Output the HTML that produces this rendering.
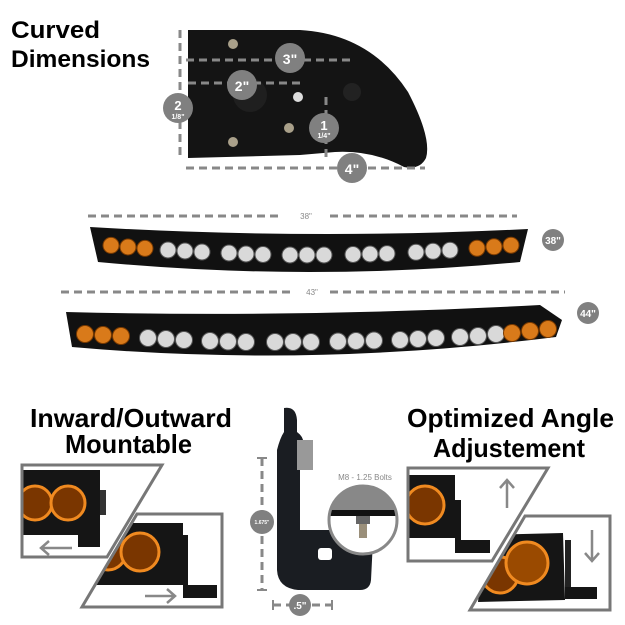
<!DOCTYPE html>
<html><head><meta charset="utf-8"><style>
html,body{margin:0;padding:0;background:#fff;}
svg{display:block;}
text{font-family:"Liberation Sans",sans-serif;}
</style></head><body>
<svg width="625" height="625" viewBox="0 0 625 625" xmlns="http://www.w3.org/2000/svg">
<defs>
<clipPath id="c1"><polygon points="22,465 162,465 107,557 22,557"/></clipPath>
<clipPath id="c2"><polygon points="137,514 222,514 222,607 82,607"/></clipPath>
<clipPath id="c3"><polygon points="408,468 548,468 492,561 408,561"/></clipPath>
<clipPath id="c4"><polygon points="525,516 610,516 610,610 470,610"/></clipPath>
<clipPath id="cb"><circle cx="363" cy="520" r="34"/></clipPath>
</defs>

<!-- Title -->
<text x="11" y="38" font-size="24" font-weight="bold" fill="#000" textLength="89" lengthAdjust="spacingAndGlyphs">Curved</text>
<text x="11" y="67" font-size="24" font-weight="bold" fill="#000" textLength="139" lengthAdjust="spacingAndGlyphs">Dimensions</text>

<!-- Bracket plate -->
<path d="M188,30 L300,30 Q370,34 408,92 Q432,138 426,158 Q420,170 404,167 Q372,150 335,152 L300,155 L188,158 Z" fill="#141414"/>
<circle cx="233" cy="44" r="5" fill="#a9a08a"/>
<circle cx="233" cy="142" r="5" fill="#a9a08a"/>
<circle cx="289" cy="128" r="5" fill="#a9a08a"/>
<circle cx="250" cy="95" r="17" fill="#1f1f1f"/>
<circle cx="298" cy="97" r="5" fill="#ddd"/>
<circle cx="352" cy="92" r="9" fill="#222"/>

<!-- dimension lines -->
<g stroke="#888" stroke-width="3" stroke-dasharray="8,5" fill="none">
<line x1="180" y1="30" x2="180" y2="158"/>
<line x1="186" y1="60" x2="352" y2="60"/>
<line x1="188" y1="83" x2="300" y2="83"/>
<line x1="326" y1="97" x2="326" y2="158"/>
<line x1="186" y1="168" x2="425" y2="168"/>
<line x1="88" y1="216" x2="283" y2="216"/>
<line x1="330" y1="216" x2="517" y2="216"/>
<line x1="61" y1="292" x2="295" y2="292"/>
<line x1="330" y1="292" x2="565" y2="292"/>
<line x1="262" y1="458" x2="262" y2="590"/>
<line x1="273" y1="605" x2="332" y2="605"/>
</g>
<g fill="#808080">
<circle cx="290" cy="58" r="15"/>
<circle cx="242" cy="85" r="15"/>
<circle cx="178" cy="108" r="15"/>
<circle cx="324" cy="128" r="15"/>
<circle cx="352" cy="168" r="15"/>
<circle cx="553" cy="240" r="11"/>
<circle cx="588" cy="313" r="11"/>
<circle cx="262" cy="522" r="12"/>
<circle cx="300" cy="605" r="11"/>
</g>
<g fill="#fff" font-weight="bold" text-anchor="middle">
<text x="290" y="64" font-size="14">3"</text>
<text x="242" y="91" font-size="14">2"</text>
<text x="178" y="110" font-size="13">2</text>
<text x="178" y="119" font-size="7">1/8"</text>
<text x="324" y="130" font-size="13">1</text>
<text x="324" y="138" font-size="7">1/4"</text>
<text x="352" y="174" font-size="14">4"</text>
<text x="553" y="244" font-size="10">38"</text>
<text x="588" y="317" font-size="10">44"</text>
<text x="262" y="524" font-size="5">1.675"</text>
<text x="300" y="609" font-size="10">.5"</text>
</g>
<text x="306" y="219" font-size="8" fill="#888" text-anchor="middle">38"</text>
<text x="312" y="295" font-size="8" fill="#888" text-anchor="middle">43"</text>

<!-- Bar 1 -->
<path d="M90,227 Q310,240 528,229 L520,262 Q310,282 98,262 Z" fill="#111"/>
<g fill="#d9d9d9" stroke="#555" stroke-width="1">
<circle cx="168" cy="250" r="8"/><circle cx="185" cy="251" r="8"/><circle cx="202" cy="252" r="8"/>
<circle cx="229" cy="253" r="8"/><circle cx="246" cy="254" r="8"/><circle cx="263" cy="254.5" r="8"/>
<circle cx="290" cy="255" r="8"/><circle cx="307" cy="255" r="8"/><circle cx="324" cy="255" r="8"/>
<circle cx="353" cy="254.5" r="8"/><circle cx="370" cy="254" r="8"/><circle cx="387" cy="253.6" r="8"/>
<circle cx="416" cy="252.3" r="8"/><circle cx="433" cy="251.3" r="8"/><circle cx="450" cy="250.2" r="8"/>
</g>
<g fill="#d97a1a" stroke="#7a3a00" stroke-width="1">
<circle cx="111" cy="245.4" r="8"/><circle cx="128" cy="247" r="8"/><circle cx="145" cy="248.4" r="8"/>
<circle cx="477" cy="248.2" r="8"/><circle cx="494" cy="246.8" r="8"/><circle cx="511" cy="245.2" r="8"/>
</g>

<!-- Bar 2 -->
<path d="M66,312 Q300,318 540,305 L562,320 L556,337 Q310,368 72,347 Z" fill="#111"/>
<g fill="#d9d9d9" stroke="#555" stroke-width="1">
<circle cx="148" cy="338" r="8.5"/><circle cx="166" cy="339" r="8.5"/><circle cx="184" cy="340" r="8.5"/>
<circle cx="210" cy="341" r="8.5"/><circle cx="228" cy="341.5" r="8.5"/><circle cx="246" cy="342" r="8.5"/>
<circle cx="275" cy="342" r="8.5"/><circle cx="293" cy="342" r="8.5"/><circle cx="311" cy="342" r="8.5"/>
<circle cx="338" cy="341.5" r="8.5"/><circle cx="356" cy="341" r="8.5"/><circle cx="374" cy="340.5" r="8.5"/>
<circle cx="400" cy="340" r="8.5"/><circle cx="418" cy="339" r="8.5"/><circle cx="436" cy="338" r="8.5"/>
<circle cx="460" cy="337" r="8.5"/><circle cx="478" cy="336" r="8.5"/><circle cx="496" cy="334" r="8.5"/>
</g>
<g fill="#d97a1a" stroke="#7a3a00" stroke-width="1">
<circle cx="85" cy="334" r="8.5"/><circle cx="103" cy="335" r="8.5"/><circle cx="121" cy="336" r="8.5"/>
<circle cx="512" cy="333" r="8.5"/><circle cx="530" cy="331" r="8.5"/><circle cx="548" cy="329" r="8.5"/>
</g>

<!-- Bottom titles -->
<text x="30" y="427" font-size="26" font-weight="bold" fill="#000" textLength="202" lengthAdjust="spacingAndGlyphs">Inward/Outward</text>
<text x="65" y="453" font-size="26" font-weight="bold" fill="#000" textLength="127" lengthAdjust="spacingAndGlyphs">Mountable</text>
<text x="407" y="427" font-size="26" font-weight="bold" fill="#000" textLength="207" lengthAdjust="spacingAndGlyphs">Optimized Angle</text>
<text x="433" y="457" font-size="26" font-weight="bold" fill="#000" textLength="152" lengthAdjust="spacingAndGlyphs">Adjustement</text>

<!-- Left frames -->
<g clip-path="url(#c1)">
<rect x="15" y="470" width="85" height="65" fill="#151515"/>
<circle cx="35" cy="503" r="17" fill="#7a3600" stroke="#f08a20" stroke-width="3"/>
<circle cx="68" cy="503" r="17" fill="#7a3600" stroke="#f08a20" stroke-width="3"/>
<rect x="100" y="490" width="6" height="25" fill="#333"/>
<rect x="78" y="535" width="22" height="12" fill="#151515"/>
</g>
<polygon points="22,465 162,465 107,557 22,557" fill="none" stroke="#777" stroke-width="3"/>
<path d="M72,548 L42,548 M49,541 L41,548 L49,555" stroke="#888" stroke-width="2.5" fill="none"/>

<g clip-path="url(#c2)">
<rect x="95" y="523" width="88" height="62" fill="#151515"/>
<circle cx="108" cy="552" r="18" fill="#7a3600" stroke="#f08a20" stroke-width="3"/>
<circle cx="140" cy="552" r="19" fill="#7a3600" stroke="#f08a20" stroke-width="3"/>
<rect x="183" y="535" width="5" height="60" fill="#151515"/>
<rect x="183" y="585" width="34" height="13" fill="#151515"/>
</g>
<polygon points="137,514 222,514 222,607 82,607" fill="none" stroke="#777" stroke-width="3"/>
<path d="M145,596 L174,596 M167,589 L175,596 L167,603" stroke="#888" stroke-width="2.5" fill="none"/>

<!-- Right frames -->
<g clip-path="url(#c3)">
<rect x="400" y="475" width="55" height="63" fill="#151515"/>
<circle cx="425" cy="505" r="19" fill="#7a3600" stroke="#f08a20" stroke-width="3"/>
<rect x="455" y="500" width="6" height="53" fill="#151515"/>
<rect x="455" y="540" width="35" height="13" fill="#151515"/>
</g>
<polygon points="408,468 548,468 492,561 408,561" fill="none" stroke="#777" stroke-width="3"/>
<path d="M507,508 L507,481 M500,488 L507,480 L514,488" stroke="#888" stroke-width="2.5" fill="none"/>

<g clip-path="url(#c4)">
<polygon points="485,535 563,533 565,600 478,602" fill="#151515"/>
<circle cx="500" cy="575" r="18" fill="#7a3600" stroke="#f08a20" stroke-width="3"/>
<circle cx="527" cy="563" r="21" fill="#9a4a00" stroke="#f08a20" stroke-width="3"/>
<rect x="565" y="540" width="6" height="50" fill="#222"/>
<rect x="565" y="587" width="32" height="12" fill="#151515"/>
</g>
<polygon points="525,516 610,516 610,610 470,610" fill="none" stroke="#777" stroke-width="3"/>
<path d="M592,530 L592,560 M585,553 L592,561 L599,553" stroke="#888" stroke-width="2.5" fill="none"/>

<!-- Center bracket -->
<path d="M284,408 Q296,406 297,420 L297,432 Q308,440 300,452 L300,530 L368,530 Q374,532 373,540 L371,580 Q370,590 360,590 L298,590 Q278,588 277,570 L277,450 Q280,438 284,432 Z" fill="#1a1d22"/>
<rect x="297" y="440" width="16" height="30" fill="#999"/>
<rect x="318" y="548" width="14" height="12" rx="3" fill="#fff"/>
<text x="365" y="480" font-size="8" fill="#888" text-anchor="middle">M8 - 1.25 Bolts</text>
<g clip-path="url(#cb)">
<rect x="325" y="484" width="80" height="75" fill="#fff"/>
<polygon points="325,484 405,484 405,510 325,510" fill="#888"/>
<rect x="325" y="510" width="80" height="6" fill="#111"/>
<rect x="356" y="516" width="14" height="8" fill="#666"/>
<rect x="359" y="524" width="8" height="14" fill="#9a8f7a"/>
</g>
<circle cx="363" cy="520" r="34" fill="none" stroke="#888" stroke-width="3"/>
<line x1="257" y1="458" x2="267" y2="458" stroke="#888" stroke-width="2"/>
<line x1="257" y1="590" x2="267" y2="590" stroke="#888" stroke-width="2"/>
<line x1="273" y1="600" x2="273" y2="610" stroke="#888" stroke-width="2"/>
<line x1="332" y1="600" x2="332" y2="610" stroke="#888" stroke-width="2"/>
</svg>
</body></html>
